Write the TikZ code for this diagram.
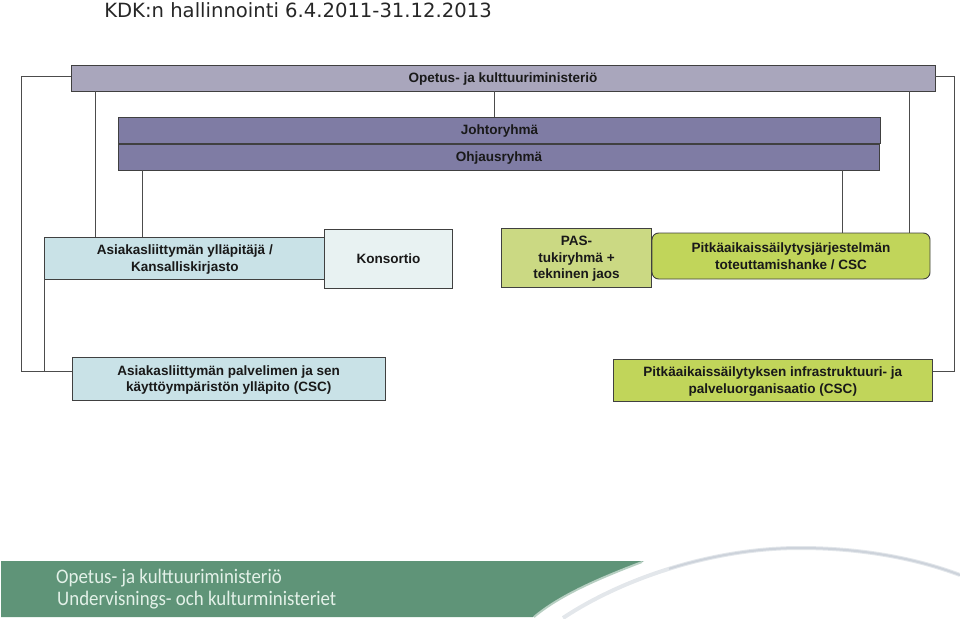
\documentclass[tikz,border=0pt]{standalone}
\usepackage{fontspec}
\setmainfont{Liberation Sans}
\newfontfamily\titlefont{DejaVu Sans}
\newfontfamily\footfont{Carlito}
\usepackage{tikz}

\definecolor{ministry}{HTML}{A9A6BC}
\definecolor{group}{HTML}{7F7CA4}
\definecolor{paleblue}{HTML}{C9E2E7}
\definecolor{paleteal}{HTML}{E8F2F2}
\definecolor{palegreen}{HTML}{CBD983}
\definecolor{limegreen}{HTML}{C1D55A}
\definecolor{bandgreen}{HTML}{5F9478}
\definecolor{bandtext}{HTML}{E3F1E8}
\definecolor{arcgray}{HTML}{CDD3DB}

\tikzset{
orgbox/.style={draw=black!75, line width=0.7pt, inner sep=0pt, align=center, font=\bfseries\fontsize{10.15}{12.2}\selectfont, text=black!90},
oneline/.style={text depth=0pt},
twoline/.style={text depth=-0.8pt},
link/.style={draw=black!70, line width=0.7pt},
bandlabel/.style={font=\footfont\fontsize{15.5}{18}\selectfont, text=bandtext, anchor=west, inner sep=0pt, xscale=0.913}
}

\begin{document}
\begin{tikzpicture}[x=0.75pt, y=-0.75pt]
\useasboundingbox (0,0) rectangle (960,618);

\node[font=\titlefont\fontsize{14.7}{16}\selectfont, text=black!85, anchor=west, inner sep=0pt] (title) at (104,10.5) {KDK:n hallinnointi 6.4.2011-31.12.2013};

\node[orgbox, oneline, fill=ministry, minimum width=648pt, minimum height=19.5pt] (ministry) at (503,78) {Opetus- ja kulttuuriministeriö};
\node[orgbox, oneline, fill=group, minimum width=572pt, minimum height=19.5pt] (steering) at (499.5,130) {Johtoryhmä};
\node[orgbox, oneline, fill=group, minimum width=570.5pt, minimum height=19.5pt] (board) at (499,157) {Ohjausryhmä};

\node[orgbox, twoline, fill=paleblue, minimum width=210.5pt, minimum height=31.5pt] (client) at (184.8,258) {Asiakasliittymän ylläpitäjä /\\
Kansalliskirjasto};
\node[orgbox, oneline, fill=paleteal, minimum width=95.5pt, minimum height=44pt] (consortium) at (388.5,259) {Konsortio};
\node[orgbox, twoline, fill=palegreen, minimum width=113pt, minimum height=44.25pt] (support) at (576.5,257.5) {PAS-\\
tukiryhmä +\\
tekninen jaos};
\node[orgbox, twoline, fill=limegreen, rounded corners=5pt, minimum width=208.5pt, minimum height=34.5pt] (project) at (791,256) {Pitkäaikaissäilytysjärjestelmän\\
toteuttamishanke / CSC};

\node[orgbox, twoline, fill=paleblue, minimum width=234.5pt, minimum height=32.25pt] (server) at (228.7,378.5) {Asiakasliittymän palvelimen ja sen\\
käyttöympäristön ylläpito (CSC)};
\node[orgbox, twoline, fill=limegreen, minimum width=239pt, minimum height=31.5pt] (infra) at (772.8,380) {Pitkäaikaissäilytyksen infrastruktuuri- ja\\
palveluorganisaatio (CSC)};

% connectors
\coordinate (outerleft) at (21,76);
\coordinate (innerleft) at (44.5,371.5);
\coordinate (outerright) at (954.5,76);
\coordinate (drop a) at (95,0);
\coordinate (drop b) at (142,0);
\coordinate (drop c) at (494,0);
\coordinate (drop d) at (842.5,0);
\coordinate (drop e) at (909.5,0);

\draw[link] (ministry.west |- outerleft) -- (outerleft) |- (server.west |- innerleft);
\draw[link] (client.south -| innerleft) -- (innerleft);
\draw[link] (ministry.east |- outerright) -- (outerright) |- (infra.east |- innerleft);
\draw[link] (ministry.south -| drop a) -- (client.north -| drop a);
\draw[link] (board.south -| drop b) -- (client.north -| drop b);
\draw[link] (ministry.south -| drop c) -- (steering.north -| drop c);
\draw[link] (board.south -| drop d) -- (project.north -| drop d);
\draw[link] (ministry.south -| drop e) -- (project.north -| drop e);

% footer
\fill[bandgreen] (1,561) -- (644,561) .. controls (600,578) and (560,595) .. (533,617) -- (1,617) -- cycle;
\draw[bandgreen!45, line width=1.5pt] (642,562) .. controls (600,578) and (560,595) .. (534,617);
\draw[arcgray!55, line width=3pt] (563,618) .. controls (620,580) and (710,548) .. (800,548) .. controls (860,548) and (915,558) .. (960,575);
\draw[arcgray, line width=1.5pt] (669,568.75) .. controls (710,556) and (755,548) .. (800,548) .. controls (860,548) and (915,558) .. (960,575);

\node[bandlabel] (name fi) at (56,578.5) {Opetus- ja kulttuuriministeriö};
\node[bandlabel] (name sv) at (57,600.5) {Undervisnings- och kulturministeriet};
\end{tikzpicture}
\end{document}
